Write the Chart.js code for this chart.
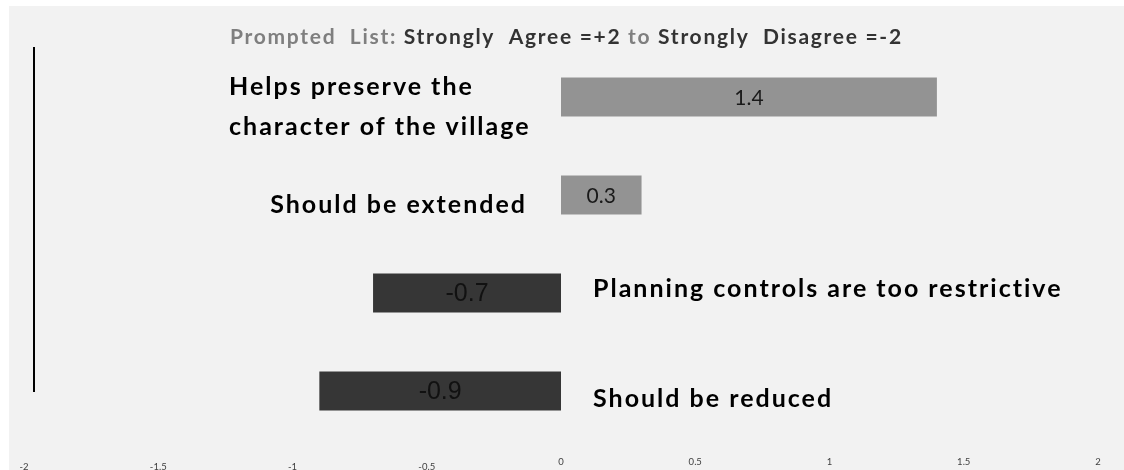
<!DOCTYPE html>
<html>
<head>
<meta charset="utf-8">
<script src="https://cdn.jsdelivr.net/npm/chart.js@4.4.1/dist/chart.umd.min.js"></script>
<style>
  html, body { margin: 0; padding: 0; background: #fff; }
  #wrap { width: 1124px; height: 470px; position: relative; }
</style>
</head>
<body>
<div id="wrap"><canvas id="chart" width="1124" height="470"></canvas></div>
<script>
// survey statements and their mean scores (+2 strongly agree .. -2 strongly disagree)
const statements = [
    ['Helps preserve the', 'character of the village'],
    'Should be extended',
    'Planning controls are too restrictive',
    'Should be reduced'
];
const scores = [1.4, 0.3, -0.7, -0.9];
const tickValues = [-2, -1.5, -1, -0.5, 0, 0.5, 1, 1.5, 2];
const tickLabels = ['-2', '-1.5', '-1', '-0.5', '0', '0.5', '1', '1.5', '2'];
const titleParts = [
    ['Prompted  List: ', '#7f7f7f'],
    ['Strongly  Agree =+2 ', '#333333'],
    ['to ', '#7f7f7f'],
    ['Strongly  Disagree =-2', '#333333']
];

const POS = '#939393';
const NEG = '#363636';

// grey panel, title and the thin black rule on the left
const backdrop = {
    id: 'backdrop',
    beforeDraw(chart) {
        const c = chart.ctx;
        c.save();
        c.fillStyle = '#f2f2f2';
        c.fillRect(9, 6, chart.width - 9, chart.height - 6);

        c.font = 'bold 21px Lato';
        c.letterSpacing = '1.7px';
        c.textBaseline = 'middle';
        let x = 230;
        titleParts.forEach(([t, col]) => {
            c.fillStyle = col;
            c.fillText(t, x, 37);
            x += c.measureText(t).width;
        });
        c.letterSpacing = '0px';

        c.fillStyle = '#000';
        c.fillRect(33, 47, 2, 345);
        c.restore();
    }
};

// values inside the bars, statements beside them
const barText = {
    id: 'barText',
    afterDatasetsDraw(chart) {
        const c = chart.ctx;
        const zero = chart.scales.x.getPixelForValue(0);
        const bars = chart.getDatasetMeta(0).data;
        c.save();
        c.textBaseline = 'middle';
        bars.forEach((bar, i) => {
            const v = scores[i];
            c.textAlign = 'center';
            if (v >= 0) {
                c.font = '21px Lato';
                c.fillStyle = '#1a1a1a';
            } else {
                c.font = '25px "Liberation Sans"';
                c.fillStyle = '#111';
            }
            c.fillText(v.toFixed(1), (bar.x + bar.base) / 2, bar.y + 1);
        });

        c.font = 'bold 25px Lato';
        c.letterSpacing = '2px';
        c.fillStyle = '#000';
        c.textBaseline = 'alphabetic';
        bars.forEach((bar, i) => {
            const s = statements[i];
            if (Array.isArray(s)) {
                c.textAlign = 'left';
                c.fillText(s[0], 229, bar.y - 2);
                c.fillText(s[1], 229, bar.y + 38);
            } else if (scores[i] >= 0) {
                c.textAlign = 'right';
                c.fillText(s, zero - 34, bar.y + 18);
            } else {
                c.textAlign = 'left';
                c.fillText(s, zero + 32, bar.y + (i === 2 ? 4 : 16));
            }
        });
        c.restore();
    }
};

new Chart(document.getElementById('chart'), {
    type: 'bar',
    data: {
        labels: statements,
        datasets: [{
            data: scores,
            backgroundColor: scores.map(v => v >= 0 ? POS : NEG),
            borderWidth: 0,
            barPercentage: 0.4,
            categoryPercentage: 1
        }]
    },
    options: {
        indexAxis: 'y',
        responsive: false,
        animation: false,
        layout: { padding: { left: 24, right: 26, top: 48, bottom: 0 } },
        plugins: {
            legend: { display: false },
            tooltip: { enabled: false }
        },
        scales: {
            x: {
                min: -2,
                max: 2,
                afterBuildTicks: s => { s.ticks = tickValues.map(v => ({ value: v })); },
                afterFit: s => { s.height = 30; },
                grid: { display: false },
                border: { display: false },
                ticks: {
                    padding: 8,
                    color: '#404040',
                    // negative labels sit a few pixels lower in the original
                    font: ctx => ({
                        size: 9.5,
                        family: 'Lato',
                        lineHeight: ctx.tick && ctx.tick.value < 0 ? 0.74 : 1.2
                    }),
                    maxRotation: 0,
                    autoSkip: false,
                    callback: (v, i) => v < 0 ? ['', tickLabels[i]] : tickLabels[i]
                }
            },
            y: { display: false }
        }
    },
    plugins: [backdrop, barText]
});
</script>
</body>
</html>
